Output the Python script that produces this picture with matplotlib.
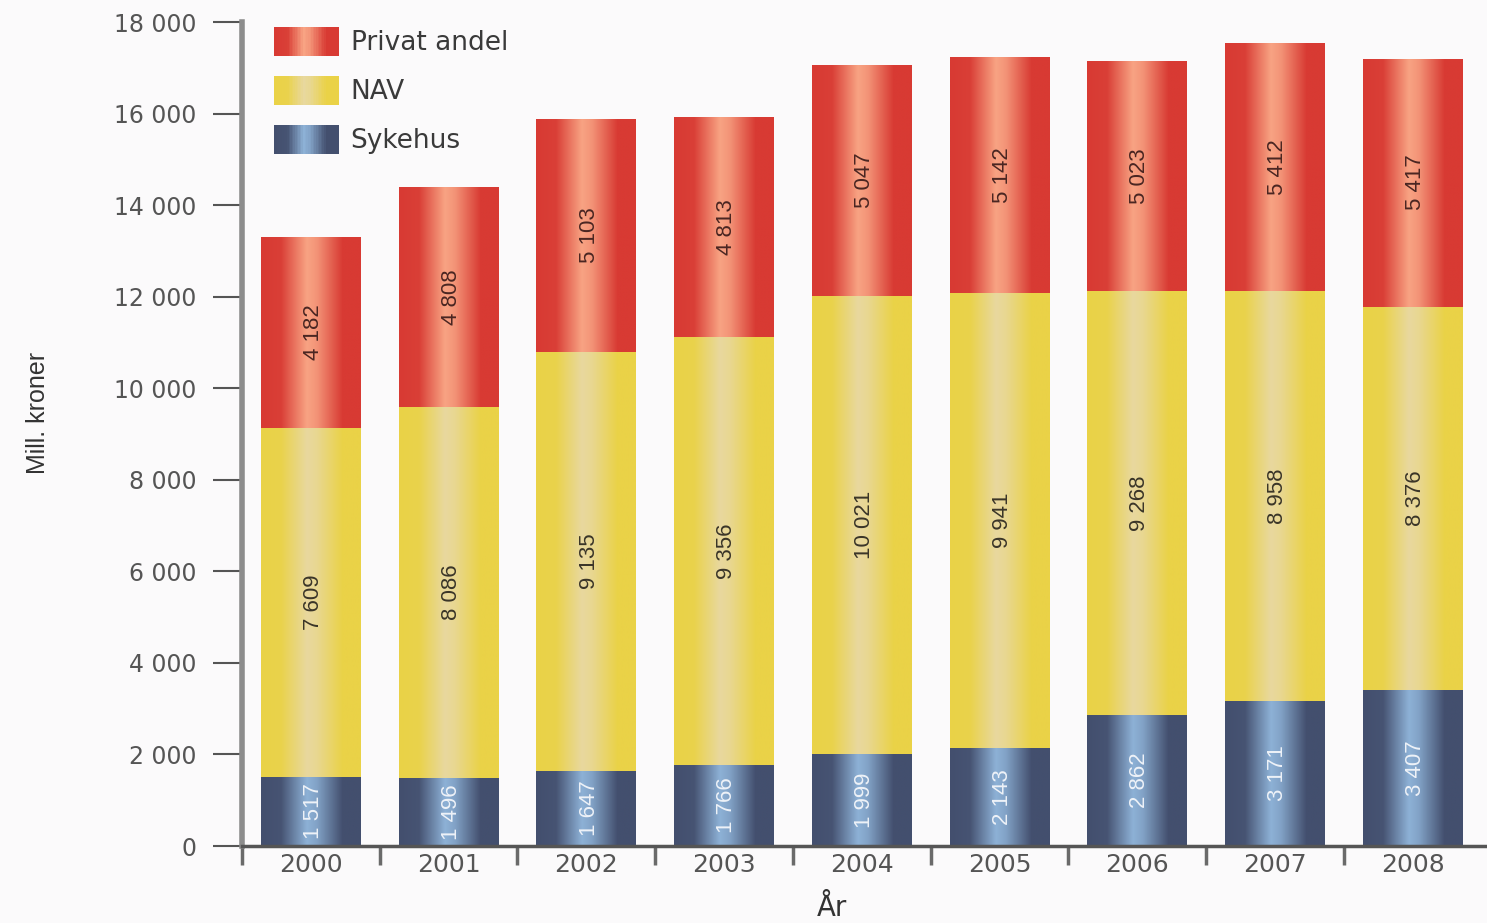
import numpy as np
import matplotlib

matplotlib.use("Agg")

import matplotlib.pyplot as plt  # noqa: E402
from matplotlib.colors import LinearSegmentedColormap  # noqa: E402
from matplotlib.legend_handler import HandlerBase  # noqa: E402
from matplotlib.patches import Rectangle  # noqa: E402

# Data (mill. kroner)
years = ["2000", "2001", "2002", "2003", "2004", "2005", "2006", "2007", "2008"]
sykehus = [1517, 1496, 1647, 1766, 1999, 2143, 2862, 3171, 3407]
nav = [7609, 8086, 9135, 9356, 10021, 9941, 9268, 8958, 8376]
privat = [4182, 4808, 5103, 4813, 5047, 5142, 5023, 5412, 5417]
yticks = [0, 2000, 4000, 6000, 8000, 10000, 12000, 14000, 16000, 18000]

NARROW = ["Liberation Sans", "DejaVu Sans"]
BG = "#fbfafb"
# (dark edge, light highlight, label colour)
styles = {
    "Sykehus": ("#434f6e", "#8db1d6", "#eef2f8"),
    "NAV": ("#ead247", "#e8d89e", "#3a3528"),
    "Privat andel": ("#d83a33", "#f8a383", "#4a2622"),
}


def profile(n=64):
    t = np.linspace(0, 1, n)
    return np.interp(t, [0, 0.2, 0.46, 0.56, 0.82, 1], [0, 0.05, 1, 0.85, 0.0, 0])


def cmap_for(name):
    dark, light, _ = styles[name]
    return LinearSegmentedColormap.from_list(name, [dark, light])


def fmt(v):
    return f"{v:,}".replace(",", " ")


class GradientHandler(HandlerBase):
    # legend swatch drawn as thin stripes so it keeps the bar gradient
    def create_artists(self, legend, orig_handle, xdescent, ydescent,
                       width, height, fontsize, trans):
        cm = cmap_for(orig_handle.get_label())
        vals = profile(40)
        w = width / len(vals)
        arts = []
        for i, v in enumerate(vals):
            arts.append(Rectangle((-xdescent + i * w, -ydescent), w * 1.05, height,
                                  facecolor=cm(v), edgecolor="none", transform=trans))
        return arts


fig = plt.figure(figsize=(14.87, 9.23), dpi=100, facecolor=BG)
ax = fig.add_axes([242 / 1487, 1 - 846 / 923, 1 - 242 / 1487, (846 - 22) / 923])
ax.set_facecolor(BG)

x = np.arange(len(years))
width = 0.725
grad = profile(128)[None, :]
bottom = np.zeros(len(years))
handles = {}
for name, vals in [("Sykehus", sykehus), ("NAV", nav), ("Privat andel", privat)]:
    dark, light, txtc = styles[name]
    bars = ax.bar(x, vals, width, bottom=bottom, color=dark, label=name,
                  linewidth=0, zorder=2)
    handles[name] = bars
    cm = cmap_for(name)
    for patch, v, b in zip(bars.patches, vals, bottom):
        x0, y0 = patch.get_x(), patch.get_y()
        im = ax.imshow(grad, cmap=cm, vmin=0, vmax=1, aspect="auto",
                       extent=(x0, x0 + patch.get_width(), y0, y0 + patch.get_height()),
                       zorder=3, interpolation="bilinear")
        im.set_clip_path(patch)
        ax.text(patch.get_x() + patch.get_width() / 2 + 0.02, b + v / 2, fmt(v),
                rotation=90, ha="center", va="center", fontsize=16,
                family=NARROW, color=txtc, zorder=4)
    bottom = bottom + np.array(vals)

ax.set_xlim(-0.5, 8.54)
ax.set_ylim(0, 18000)

ax.set_yticks(yticks)
ax.set_yticklabels([fmt(v) for v in yticks])
ax.tick_params(axis="y", direction="out", length=21, width=1.5, color="#555555",
               pad=12, labelsize=17, labelcolor="#555555")

ax.set_xticks(x)
ax.set_xticklabels(years)
ax.tick_params(axis="x", which="major", length=0, pad=5, labelsize=18, labelcolor="#555555")
ax.set_xticks(np.arange(-0.5, 8.0, 1.0), minor=True)
ax.tick_params(axis="x", which="minor", direction="out", length=14, width=2.5,
               color="#6a6a6a")

for s in ("top", "right"):
    ax.spines[s].set_visible(False)
ax.spines["left"].set_color("#8c8c8c")
ax.spines["left"].set_linewidth(4)
ax.spines["bottom"].set_color("#555555")
ax.spines["bottom"].set_linewidth(2.5)
ax.spines["bottom"].set_zorder(5)

ax.set_xlabel("År", fontsize=20, color="#333333")
ax.xaxis.set_label_coords(0.474, -0.075)
ax.xaxis.label.set_va("center")
ax.set_ylabel("Mill. kroner", fontsize=18, family=NARROW, color="#333333")
ax.yaxis.set_label_coords(-0.154, 0.525)

order = ["Privat andel", "NAV", "Sykehus"]
leg = ax.legend([handles[n] for n in order], order, loc="upper left",
                bbox_to_anchor=(0.0257, 0.994), frameon=False, borderpad=0,
                borderaxespad=0, fontsize=19, handlelength=2.45, handleheight=1.3,
                labelspacing=0.75, handletextpad=0.45,
                handler_map={type(handles["NAV"]): GradientHandler()})
for t in leg.get_texts():
    t.set_color("#3a3a3a")

fig.savefig("out.png", dpi=100, facecolor=BG)
